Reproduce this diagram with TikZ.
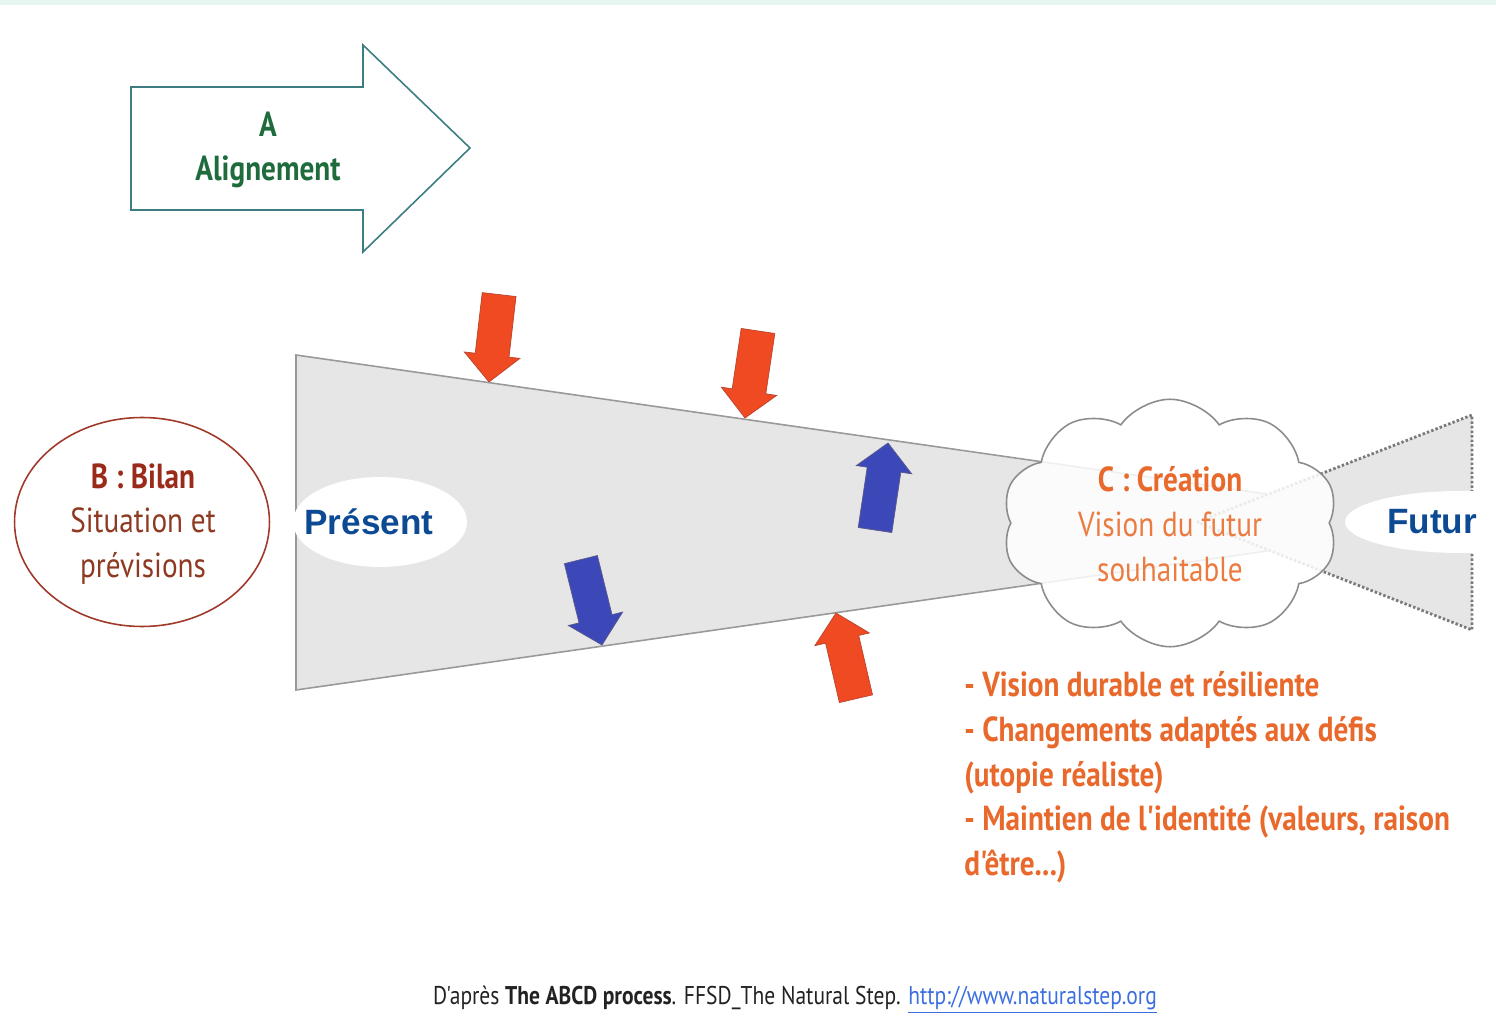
\documentclass[tikz,border=0pt]{standalone}
\usepackage{fontspec}
\setmainfont{PT Sans}
\newfontfamily\narrowsans[FakeStretch=0.84]{PT Sans}
\newfontfamily\arialsans{Liberation Sans}
\usepackage{xcolor}
\usetikzlibrary{shapes.geometric, shapes.symbols, positioning}

\definecolor{stripTeal}{HTML}{E6F5F0}
\definecolor{alignLine}{HTML}{3C7D82}
\definecolor{alignText}{HTML}{1E6B3C}
\definecolor{funnelFill}{HTML}{E6E6E6}
\definecolor{funnelLine}{HTML}{999999}
\definecolor{dotLine}{HTML}{7A7A7A}
\definecolor{bilanLine}{HTML}{A0392A}
\definecolor{bilanText}{HTML}{9A2A1A}
\definecolor{bilanBody}{HTML}{8E3A22}
\definecolor{timeBlue}{HTML}{0D4A94}
\definecolor{cloudLine}{HTML}{8C8C8C}
\definecolor{creaText}{HTML}{E8692B}
\definecolor{creaBody}{HTML}{EB7B40}
\definecolor{pushRed}{HTML}{F04A23}
\definecolor{pushRedLine}{HTML}{B8452E}
\definecolor{pushBlue}{HTML}{3D48B8}
\definecolor{pushBlueLine}{HTML}{5A5A8A}
\definecolor{noteText}{HTML}{222222}
\definecolor{linkBlue}{HTML}{3B6FE0}

\tikzset{
  step label/.style={font=\narrowsans\fontsize{19.8pt}{25.5pt}\selectfont, align=center, inner sep=0pt},
  time label/.style={font=\arialsans\bfseries\fontsize{20pt}{24pt}\selectfont, text=timeBlue, inner sep=0pt},
  time hole/.style={ellipse, fill=white, draw=none, inner sep=0pt},
  push red/.style={fill=pushRed, draw=pushRedLine, line width=0.4pt},
  push blue/.style={fill=pushBlue, draw=pushBlueLine, line width=0.4pt},
}

% fat arrow: tip point, direction angle, style
\newcommand{\pushArrow}[3]{%
  \begin{scope}[shift={(#1)}, rotate=#2]
    \filldraw[#3] (0,0) -- (-27,28) -- (-27,17) -- (-88,17) -- (-88,-17) -- (-27,-17) -- (-27,-28) -- cycle;
  \end{scope}}

\begin{document}
\begin{tikzpicture}[x=0.02cm, y=-0.02cm]
    \useasboundingbox (0,0) rectangle (1496,1026);
    \clip (0,0) rectangle (1496,1026);

    % Top strip
    \fill[stripTeal] (0,0) rectangle (1496,5);

    % A: alignment arrow
    \draw[alignLine, line width=0.9pt, fill=white] (131,87) -- (363,87) -- (363,45) -- (470,148)
        -- (363,252) -- (363,210) -- (131,210) -- cycle;
    \node[step label, font=\narrowsans\bfseries\fontsize{19.8pt}{25.5pt}\selectfont, text=alignText] (align) at (268,150) {A\\Alignement};

    % Funnel from present to future
    \fill[funnelFill] (296,355) -- (1267,494) -- (1267,551) -- (296,690) -- cycle;
    \draw[funnelLine, line width=0.9pt] (1267,494) -- (296,355) -- (296,690) -- (1267,551);
    \fill[funnelFill] (1197,522) -- (1472,415) -- (1472,630) -- cycle;
    \draw[dotLine, line width=1.6pt, dash pattern=on 1.4pt off 1.2pt] (1197,522) -- (1472,415) -- (1472,630) -- cycle;

    % Present and future
    \node[time hole, minimum width=3.48cm, minimum height=1.80cm] (presentHole) at (380,522) {};
    \node[time label] (present) at (369,522) {Présent};
    \node[time hole, minimum width=4.60cm, minimum height=1.24cm] (futureHole) at (1460,522) {};
    \node[time label] (future) at (1432,522) {Futur};

    % C: creation cloud
    \node[cloud, cloud puffs=10, cloud puff arc=110, aspect=1.35, draw=cloudLine, line width=0.9pt,
        fill=white, fill opacity=0.85, minimum width=6.72cm, minimum height=4.95cm, inner sep=0pt] (creation) at (1170,523) {};
    \node[step label, text=creaBody] (creationText) at (1170,524)
        {{\bfseries\color{creaText}C : Création}\\Vision du futur\\souhaitable};

    % B: assessment ellipse
    \node[ellipse, draw=bilanLine, line width=0.9pt, minimum width=5.10cm, minimum height=4.18cm, inner sep=0pt] (bilan) at (142,522) {};
    \node[step label, text=bilanBody] (bilanText) at (143,524)
        {{\bfseries\color{bilanText}B : Bilan}\\Situation et\\prévisions};

    % Pressures on the funnel
    \pushArrow{489,382}{-96.6}{push red}
    \pushArrow{745,418}{-98.5}{push red}
    \pushArrow{836,613}{103.1}{push red}
    \pushArrow{888,443}{81.5}{push blue}
    \pushArrow{602,645}{-76.1}{push blue}

    % Vision criteria
    \node[step label, align=left, anchor=north west, text=creaText, font=\narrowsans\bfseries\fontsize{19.8pt}{25.5pt}\selectfont] (criteria) at (964,671)
        {- Vision durable et résiliente\\- Changements adaptés aux défis\\(utopie réaliste)\\- Maintien de l'identité (valeurs, raison\\d'être...)};

    % Source
    \node[font=\narrowsans\fontsize{14.6pt}{17pt}\selectfont, text=noteText, inner sep=0pt] (source) at (795,1000)
        {D'après \textbf{The ABCD process}. FFSD\_The Natural Step. \textcolor{linkBlue}{\underline{http://www.naturalstep.org}}};
\end{tikzpicture}
\end{document}
